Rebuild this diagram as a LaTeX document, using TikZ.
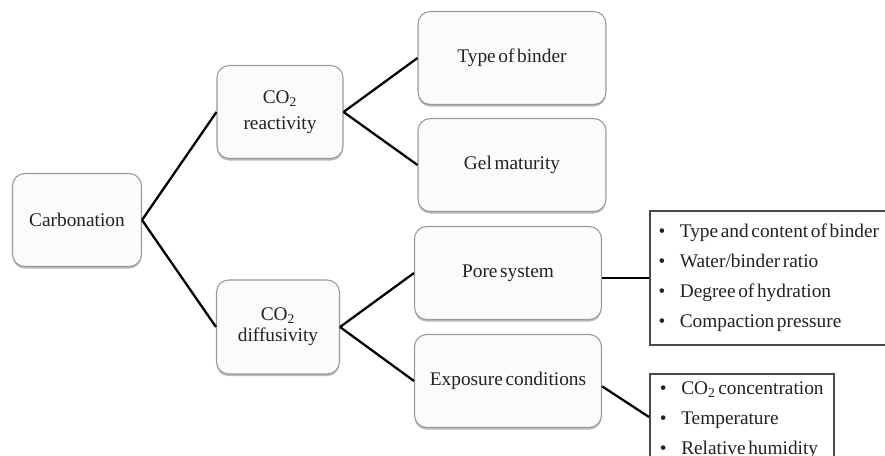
\documentclass[tikz,border=0pt]{standalone}
\usepackage{fontspec}
\setmainfont{Liberation Serif}[WordSpace=0.55]
\usetikzlibrary{positioning, shadows}
\definecolor{boxgray}{HTML}{9A9A9A}
\definecolor{boxfill}{HTML}{FBFBFB}
\definecolor{listgray}{HTML}{4A4A4A}
\definecolor{inkgray}{HTML}{222222}
\newcommand{\listbullet}{\textbullet\hspace{0.75em}}

\begin{document}
\begin{tikzpicture}[
    x=0.02cm, y=-0.02cm,
    every node/.style={text=inkgray, font=\fontsize{11}{15}\selectfont},
    factor/.style={draw=boxgray, line width=0.6pt, fill=boxfill, rounded corners=7pt,
      inner sep=0pt, align=center,
      drop shadow={shadow xshift=0pt, shadow yshift=-1.2pt, fill=black!45, opacity=0.6}},
    itemlist/.style={draw=listgray, line width=0.9pt, fill=white, inner xsep=5pt, inner ysep=0pt,
      align=left, font=\fontsize{11}{17}\selectfont},
    branch/.style={line width=1.3pt, black},
]
\useasboundingbox (0,0) rectangle (885,456);
\clip (0,0) rectangle (885,456);

% Root
\node[factor, minimum width=2.58cm, minimum height=1.86cm] (carb) at (77,220) {Carbonation};

% Second level
\node[factor, minimum width=2.52cm, minimum height=1.86cm] (react) at (280,112) {CO\textsubscript{2}\\reactivity};
\node[factor, minimum width=2.46cm, minimum height=1.88cm] (diff) at (278,327) {CO\textsubscript{2}\\[-3pt]diffusivity};

% Third level
\node[factor, minimum width=3.76cm, minimum height=1.86cm] (binder) at (512,58) {Type of binder};
\node[factor, minimum width=3.76cm, minimum height=1.86cm] (gel) at (512,165) {Gel maturity};
\node[factor, minimum width=3.74cm, minimum height=1.86cm] (pore) at (508,273) {Pore system};
\node[factor, minimum width=3.74cm, minimum height=1.86cm] (expo) at (508,381) {Exposure conditions};

% Lists of parameters
\node[itemlist, anchor=north west, minimum width=4.66cm, minimum height=2.68cm] (porelist) at (649,210)
  {\listbullet Type and content of binder\\
   \listbullet Water/binder ratio\\
   \listbullet Degree of hydration\\
   \listbullet Compaction pressure};
\node[itemlist, anchor=north west, minimum width=3.68cm, inner ysep=4.5pt] (expolist) at (649,373)
  {\listbullet CO\textsubscript{2} concentration\\
   \listbullet Temperature\\
   \listbullet Relative humidity\\[20pt]
   \mbox{}};
\coordinate (expoend) at (649,417);

% Branches
\draw[branch] (carb.east) -- (react.west);
\draw[branch] (carb.east) -- (diff.west);
\draw[branch] (react.east) -- (binder.west);
\draw[branch] (react.east) -- (gel.west);
\draw[branch] (diff.east) -- (pore.west);
\draw[branch] (diff.east) -- (expo.west);
\draw[branch] (pore.east |- porelist.west) -- (porelist.west);
\draw[branch] ([yshift=-3pt]expo.east) -- (expoend);

\end{tikzpicture}
\end{document}
